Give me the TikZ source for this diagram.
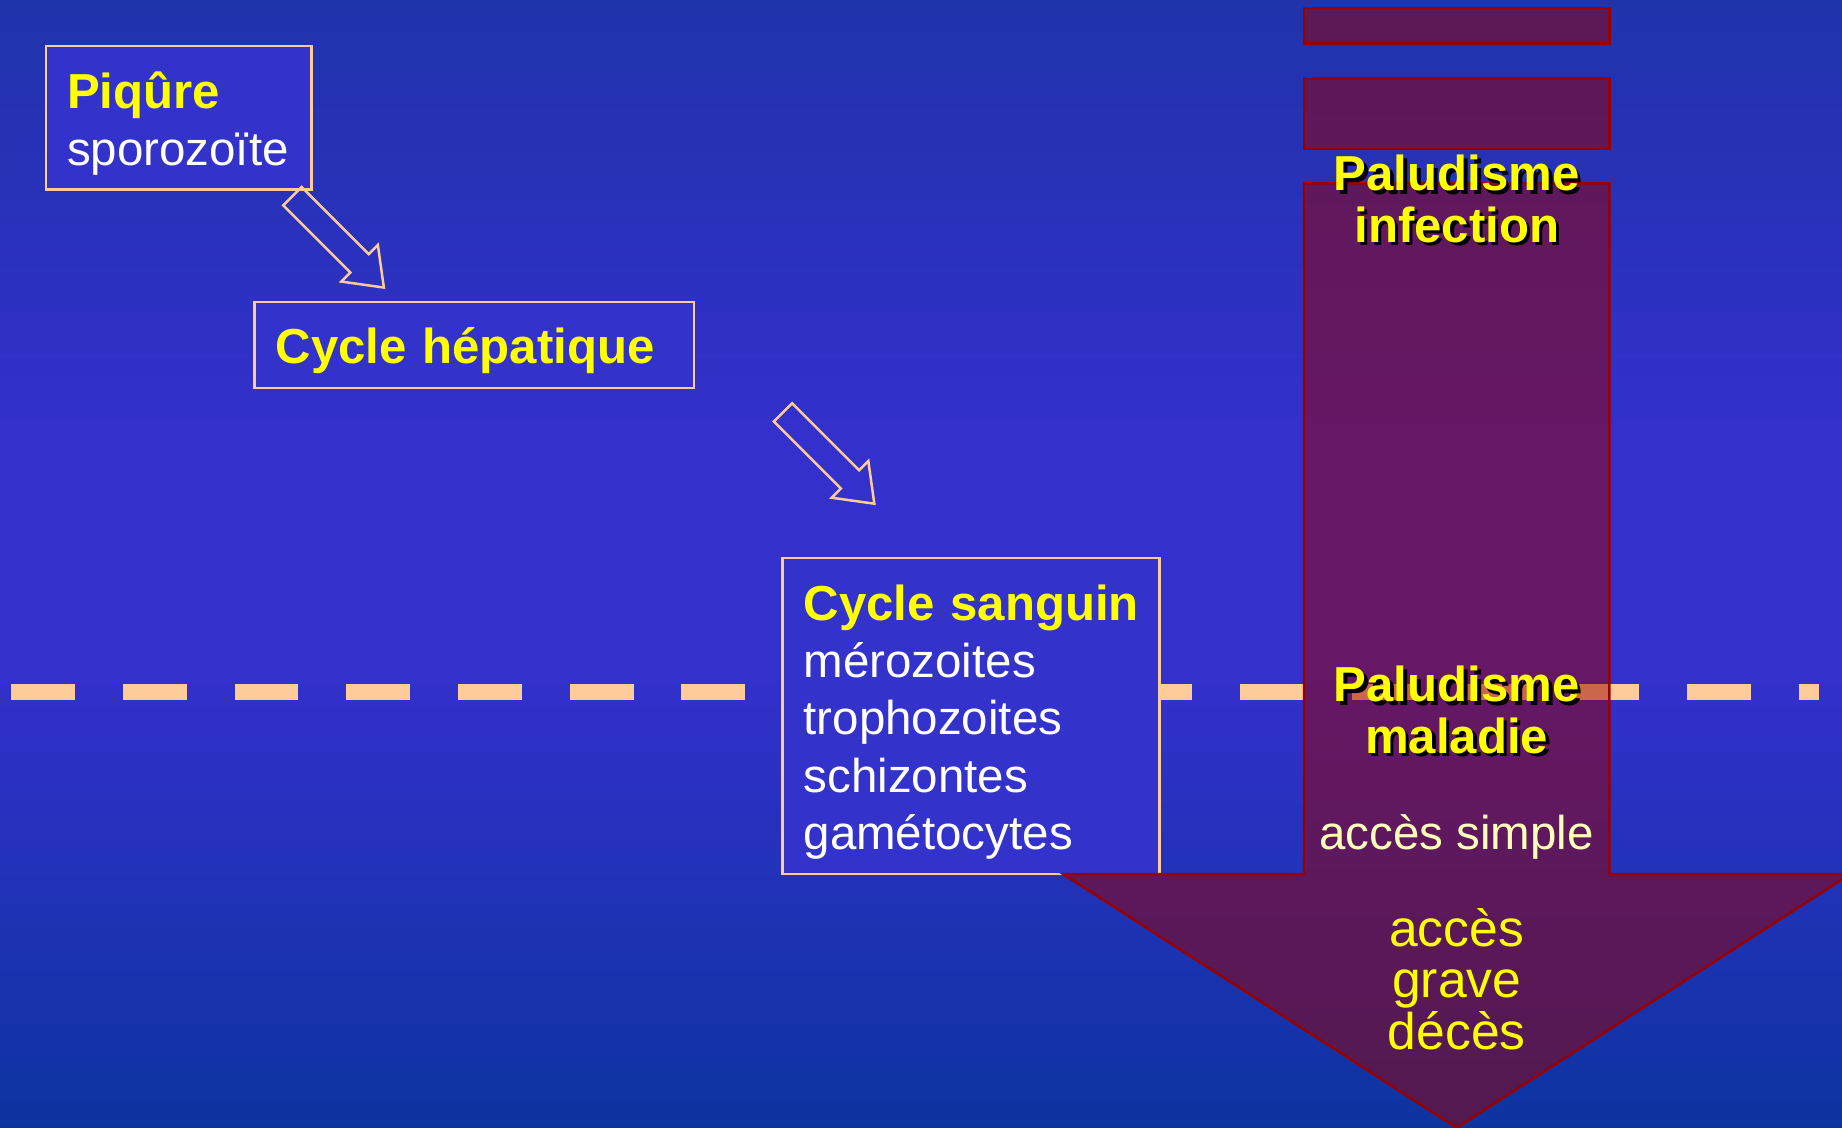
\documentclass[tikz,border=0pt]{standalone}
\usepackage{fontspec}
\setmainfont{Liberation Sans}
\usepackage{tikz}
\usetikzlibrary{shapes.arrows}
\definecolor{bgtop}{RGB}{31, 51, 170}
\definecolor{bgmid}{RGB}{51, 48, 204}
\definecolor{bgbot}{RGB}{12, 52, 160}
\definecolor{boxblue}{RGB}{51, 51, 204}
\definecolor{peach}{RGB}{255, 204, 153}
\definecolor{slyellow}{RGB}{255, 255, 0}
\definecolor{paleyellow}{RGB}{255, 255, 185}
\definecolor{malred}{RGB}{153, 0, 0}
\pgfdeclareverticalshading{slidebg}{100bp}{color(0bp)=(bgbot); color(25bp)=(bgbot);
  color(45bp)=(bgmid); color(56bp)=(bgmid); color(75bp)=(bgtop); color(100bp)=(bgtop)}
\newcommand{\ttl}[1]{{\fontsize{11.9pt}{13.85pt}\selectfont\bfseries\color{slyellow}\mbox{#1}}}
\newcommand{\shd}[1]{\makebox[0pt][l]{\hspace{0.3mm}\raisebox{-0.3mm}{\color{black}#1}}#1}

\begin{document}
\begin{tikzpicture}[
    box/.style={rectangle, draw=peach, line width=0.6pt, fill=boxblue, anchor=north west,
                align=left, inner xsep=0.18cm, inner ysep=0pt, text=white,
                font=\fontsize{11.5pt}{13.85pt}\selectfont},
    hollow/.style={single arrow, draw=peach, line width=0.6pt, anchor=tip, rotate=-45,
                   minimum height=1.10cm, inner xsep=0pt, inner ysep=0.10cm,
                   single arrow head extend=0.11cm, single arrow tip angle=74},
    malaria/.style={draw=malred, line width=0.6pt, fill=malred, fill opacity=0.5},
    cutline/.style={draw=peach, line width=0.136cm, dash pattern=on 0.543cm off 0.408cm},
    pal/.style={anchor=north, align=center, inner sep=0pt, text=slyellow,
                font=\fontsize{11.9pt}{12.4pt}\selectfont\bfseries}
  ]
    \useasboundingbox (0,0) rectangle (15.68,-9.60);
    \shade[shading=slidebg] (0,0) rectangle (15.68,-9.60);

    % limite infection / maladie
    \coordinate (cutL) at (0.095,-5.89);
    \coordinate (cutR) at (15.48,-5.89);
    \draw[cutline] (cutL) -- (cutR);

    \node[box, text width=1.90cm] (piqure) at (0.38,-0.38)
      {\rule{0pt}{0.534cm}\ttl{Piqûre}\\sporozoïte\rule[-0.20cm]{0pt}{0.20cm}};
    \node[box, text width=3.38cm, text height=0.525cm, text depth=0.205cm] (hepatique) at (2.155,-2.562)
      {\ttl{Cycle hépatique}};
    \node[box, text width=2.85cm] (sanguin) at (6.65,-4.74)
      {\rule{0pt}{0.532cm}\ttl{Cycle sanguin}\\mérozoites\\trophozoites\\schizontes\\gamétocytes\rule[-0.21cm]{0pt}{0.21cm}};

    \node[hollow] (arrPiq) at (3.28,-2.46) {};
    \node[hollow] (arrHep) at (7.455,-4.30) {};

    % fleche paludisme
    \draw[malaria] (11.10,-0.07) rectangle (13.70,-0.37);
    \draw[malaria] (11.10,-0.67) rectangle (13.70,-1.27);
    \draw[malaria] (11.10,-1.56) -- (13.70,-1.56) -- (13.70,-7.44) -- (15.75,-7.44)
      -- (12.40,-9.60) -- (9.05,-7.44) -- (11.10,-7.44) -- cycle;

    \node[pal] (palInf) at (12.40,-1.197) {\rule{0pt}{0.42cm}\shd{Paludisme}\\\shd{infection}};
    \node[pal] (palMal) at (12.40,-5.548) {\rule{0pt}{0.42cm}\shd{Paludisme}\\\shd{maladie}};
    \node[anchor=base, inner sep=0pt, text=paleyellow, font=\fontsize{11.5pt}{13.85pt}\selectfont]
      (accSimple) at (12.40,-7.234) {accès simple};
    \node[anchor=north, align=center, inner sep=0pt, text=slyellow, font=\fontsize{12.5pt}{12.46pt}\selectfont]
      (accGrave) at (12.40,-7.63) {\rule{0pt}{0.42cm}accès\\grave\\décès};
  \end{tikzpicture}
\end{document}
